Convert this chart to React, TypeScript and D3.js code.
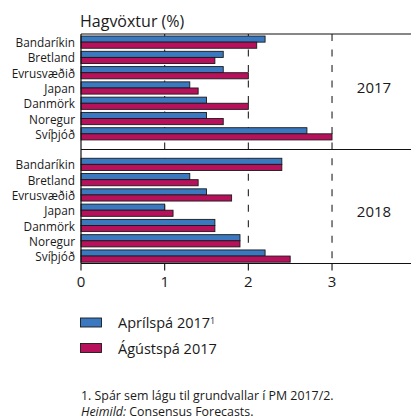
import React from "react";
import * as d3 from "d3";

const categories = ["Bandaríkin", "Bretland", "Evrusvæðið", "Japan", "Danmörk", "Noregur", "Svíþjóð"];
const april2017 = [2.2, 1.7, 1.7, 1.3, 1.5, 1.5, 2.7];
const august2017 = [2.1, 1.6, 2.0, 1.4, 2.0, 1.7, 3.0];
const april2018 = [2.4, 1.3, 1.5, 1.0, 1.6, 1.9, 2.2];
const august2018 = [2.4, 1.4, 1.8, 1.1, 1.6, 1.9, 2.5];
const panelYears = ["2017", "2018"];
const xTicks = [0, 1, 2, 3, 4];
const gridTicks = [1, 2, 3, 4];
const seriesNames = ["Aprílspá 2017", "Ágústspá 2017"];
const title = "Hagvöxtur (%)";
const footnote = "1. Spár sem lágu til grundvallar í PM 2017/2.";
const sourceLabel = "Heimild:";
const sourceText = " Consensus Forecasts.";

const BLUE = "#3a78c0";
const RED = "#b8115c";
const FONT = "'Open Sans', 'Noto Sans', sans-serif";

export default function App() {
  const W = 411, H = 419;
  const x = d3.scaleLinear().domain([0, 4]).range([81, 415.7]);
  const slots = [
    ...categories.map((c) => "2017|" + c),
    "gap",
    ...categories.map((c) => "2018|" + c),
  ];
  const y = d3.scaleBand<string>().domain(slots).range([34.5, 263.7]).paddingInner(0.2).paddingOuter(0.1);
  const sub = d3.scaleBand<string>().domain(["apr", "aug"]).range([0, y.bandwidth()]);
  const panels = [
    { year: panelYears[0], apr: april2017, aug: august2017, labelY: 93.3 },
    { year: panelYears[1], apr: april2018, aug: august2018, labelY: 216.7 },
  ];
  const top = 34;
  const sep = 149.5;
  const bottom = 263.5;

  return (
    <svg width={W} height={H} style={{ position: "fixed", left: 0, top: 0, background: "#fff" }} fontFamily={FONT}>
      <rect width={W} height={H} fill="#fff" />
      <text x={80} y={26.5} fontSize={16} fill="#1a1a1a">{title}</text>

      {/* gridlines */}
      {gridTicks.map((t) => (
        <g key={"g" + t}>
          <line x1={x(t)} x2={x(t)} y1={top} y2={sep} stroke="#222" strokeWidth={1.1} strokeDasharray="7,8.5" />
          <line x1={x(t)} x2={x(t)} y1={158.3} y2={bottom} stroke="#222" strokeWidth={1.1} strokeDasharray="7,8.5" />
        </g>
      ))}

      {/* bars */}
      {panels.map((p) => (
        <g key={p.year}>
          {categories.map((c, i) => {
            const y0 = y(p.year + "|" + c)!;
            return (
              <g key={c}>
                <rect x={x(0)} y={y0 + sub("apr")!} width={x(p.apr[i]) - x(0)} height={sub.bandwidth()} fill={BLUE} stroke="#1a1a1a" strokeWidth={0.9} />
                <rect x={x(0)} y={y0 + sub("aug")!} width={x(p.aug[i]) - x(0)} height={sub.bandwidth()} fill={RED} stroke="#1a1a1a" strokeWidth={0.9} />
                <text x={75} y={y0 + y.bandwidth() / 2 + 5} textAnchor="end" fontSize={11.8} fill="#1a1a1a">{c}</text>
              </g>
            );
          })}
          <text x={374} y={p.labelY} textAnchor="middle" fontSize={15} fill="#1a1a1a">{p.year}</text>
        </g>
      ))}

      {/* frame lines */}
      <line x1={x(0)} x2={W} y1={top} y2={top} stroke="#111" strokeWidth={1.2} />
      <line x1={x(0)} x2={W} y1={sep} y2={sep} stroke="#111" strokeWidth={1.2} />
      <line x1={x(0)} x2={W} y1={bottom} y2={bottom} stroke="#111" strokeWidth={1.2} />
      <line x1={x(0)} x2={x(0)} y1={top} y2={bottom} stroke="#111" strokeWidth={1.2} />

      {/* x ticks */}
      {xTicks.map((t) => (
        <g key={"t" + t}>
          <line x1={x(t)} x2={x(t)} y1={bottom} y2={bottom + 7} stroke="#111" strokeWidth={1.1} />
          <text x={x(t)} y={286.7} textAnchor="middle" fontSize={15} fill="#1a1a1a">{t}</text>
        </g>
      ))}

      {/* legend */}
      <rect x={80.5} y={318} width={21} height={9} fill={BLUE} stroke="#1a1a1a" strokeWidth={0.9} />
      <text x={118} y={328.3} fontSize={14.5} fill="#1a1a1a">{seriesNames[0]}<tspan fontSize={9} dy="-0.5em">1</tspan></text>
      <rect x={80.5} y={343.5} width={21} height={9} fill={RED} stroke="#1a1a1a" strokeWidth={0.9} />
      <text x={118} y={354.3} fontSize={14.5} fill="#1a1a1a">{seriesNames[1]}</text>

      {/* footnotes */}
      <text x={81} y={399.5} fontSize={12.4} fill="#1a1a1a">{footnote}</text>
      <text x={81} y={415.5} fontSize={12.4} fill="#1a1a1a"><tspan fontStyle="italic">{sourceLabel}</tspan>{sourceText}</text>
    </svg>
  );
}
